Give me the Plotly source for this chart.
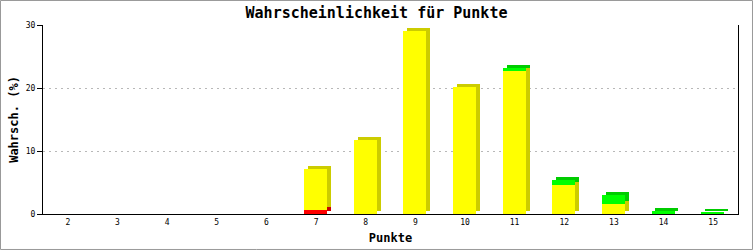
import plotly.graph_objects as go

categories = ["2", "3", "4", "5", "6", "7", "8", "9", "10", "11", "12", "13", "14", "15"]
red_vals = [0, 0, 0, 0, 0, 0.7, 0, 0, 0, 0, 0, 0, 0, 0]
yellow_vals = [0, 0, 0, 0, 0, 6.5, 11.7, 29.0, 20.2, 22.7, 4.6, 1.6, 0.1, 0]
green_vals = [0, 0, 0, 0, 0, 0, 0, 0, 0, 0.4, 0.8, 1.4, 0.3, 0.3]

series = [
    ("rot", red_vals, "#ff0000", "#cc0000"),
    ("gelb", yellow_vals, "#ffff00", "#cccc00"),
    ("grün", green_vals, "#00ff00", "#00cc00"),
]

# stacked bases
bases = []
acc = [0.0] * len(categories)
for _, vals, _, _ in series:
    bases.append(list(acc))
    acc = [a + v for a, v in zip(acc, vals)]

DEPTH_Y = 0.48
FRONT_OFF = -0.242
WIDTH = 0.463
SIDE_OFF = FRONT_OFF + 0.08

fig = go.Figure()
# 3D side/back faces
for (name, vals, c, dc), b in zip(series, bases):
    fig.add_trace(go.Bar(
        x=categories, y=vals, base=[v + DEPTH_Y for v in b],
        offset=SIDE_OFF, width=WIDTH,
        marker=dict(color=dc, line=dict(width=0)),
        showlegend=False, hoverinfo="skip"))
# front faces
for (name, vals, c, dc), b in zip(series, bases):
    fig.add_trace(go.Bar(
        x=categories, y=vals, base=b,
        offset=FRONT_OFF, width=WIDTH,
        marker=dict(color=c, line=dict(width=0)),
        name=name, showlegend=False))

mono = "DejaVu Sans Mono"
fig.update_layout(
    width=753, height=250,
    margin=dict(l=43, r=15, t=25, b=36),
    paper_bgcolor="white", plot_bgcolor="white",
    barmode="overlay", bargap=0,
    font=dict(family=mono, color="black", size=8),
    title=dict(text="<b>Wahrscheinlichkeit für Punkte</b>",
               x=0.5, xanchor="center", y=1 - 13 / 250, yanchor="middle",
               yref="container", font=dict(family=mono, size=15, color="black")),
    xaxis=dict(
        type="category", range=[-0.5, 13.5], automargin=False,
        showline=True, linecolor="black", linewidth=1,
        ticks="", showgrid=False, zeroline=False,
        tickfont=dict(family=mono, size=8),
        title=dict(text="<b>Punkte</b>", font=dict(family=mono, size=12), standoff=8),
    ),
    yaxis=dict(
        range=[0, 30], tickvals=[0, 10, 20, 30], automargin=False,
        showline=True, linecolor="black", linewidth=1, mirror=True,
        ticks="outside", ticklen=5, tickcolor="black", tickwidth=1,
        showgrid=True, gridcolor="#b8b8b8", griddash="2px,4px", gridwidth=1,
        zeroline=False,
        tickfont=dict(family=mono, size=8),
        title=dict(text="<b>Wahrsch. (%)</b>", font=dict(family=mono, size=12), standoff=4),
    ),
    shapes=[dict(type="rect", xref="paper", yref="paper",
                 x0=-0.06115, x1=1.02086, y0=-0.18783, y1=1.12963,
                 line=dict(color="#999999", width=1), fillcolor="rgba(0,0,0,0)",
                 layer="below")],
)

fig.write_html("out.html")
